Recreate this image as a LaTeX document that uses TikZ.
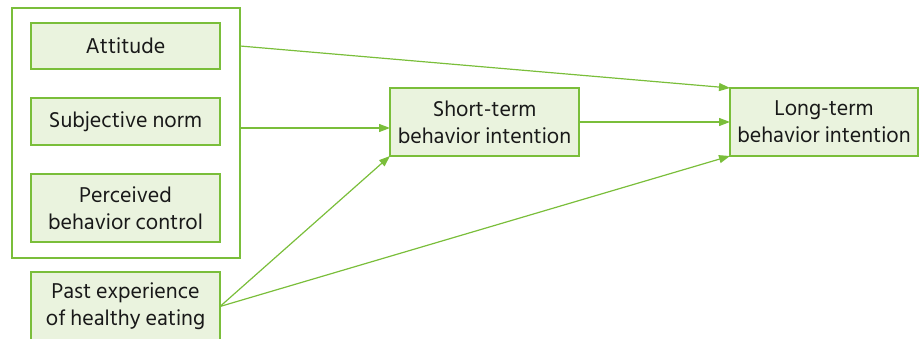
\documentclass[tikz,border=0pt]{standalone}
\usepackage{fontspec}
\setmainfont{Hind Siliguri}
\usetikzlibrary{arrows.meta}
\definecolor{lgreen}{RGB}{122,190,58}
\definecolor{lfill}{RGB}{234,243,222}
\tikzset{
  box/.style={draw=lgreen, fill=lfill, line width=1.3pt, anchor=north west,
    inner sep=0pt, outer sep=0pt, align=center, text=black!90,
    font=\fontsize{22}{27}\selectfont},
  conn/.style={draw=lgreen, line width=1.2pt, -{Triangle[length=11pt,width=8pt]}}
}
\begin{document}
\begin{tikzpicture}[x=1pt,y=-1pt]
\useasboundingbox (0,0) rectangle (919,339);
\clip (0,0) rectangle (919,339);
\node[draw=lgreen, line width=1.3pt, anchor=north west, minimum width=228, minimum height=250, inner sep=0pt, outer sep=0pt] (outer) at (12,8) {};
\node[box, minimum width=189, minimum height=46] (att) at (31,23) {Attitude};
\node[box, minimum width=189, minimum height=47] (sn) at (31,98) {Subjective norm};
\node[box, minimum width=189, minimum height=68] (pbc) at (31,174) {Perceived\\behavior control};
\node[box, minimum width=189, minimum height=69] (past) at (31,272) {Past experience\\of healthy eating};
\node[box, minimum width=189, minimum height=68] (st) at (390,88) {Short-term\\behavior intention};
\node[box, minimum width=188, minimum height=68] (lt) at (730,88) {Long-term\\behavior intention};
\draw[conn] (outer.east |- att.east) -- (lt.north west);
\draw[conn] ([yshift=-6pt]outer.east |- st.west) -- ([yshift=-6pt]st.west);
\draw[conn] (st.east) -- (lt.west);
\draw[conn] (past.east) -- (st.south west);
\draw[conn] (past.east) -- (lt.south west);
\end{tikzpicture}
\end{document}
